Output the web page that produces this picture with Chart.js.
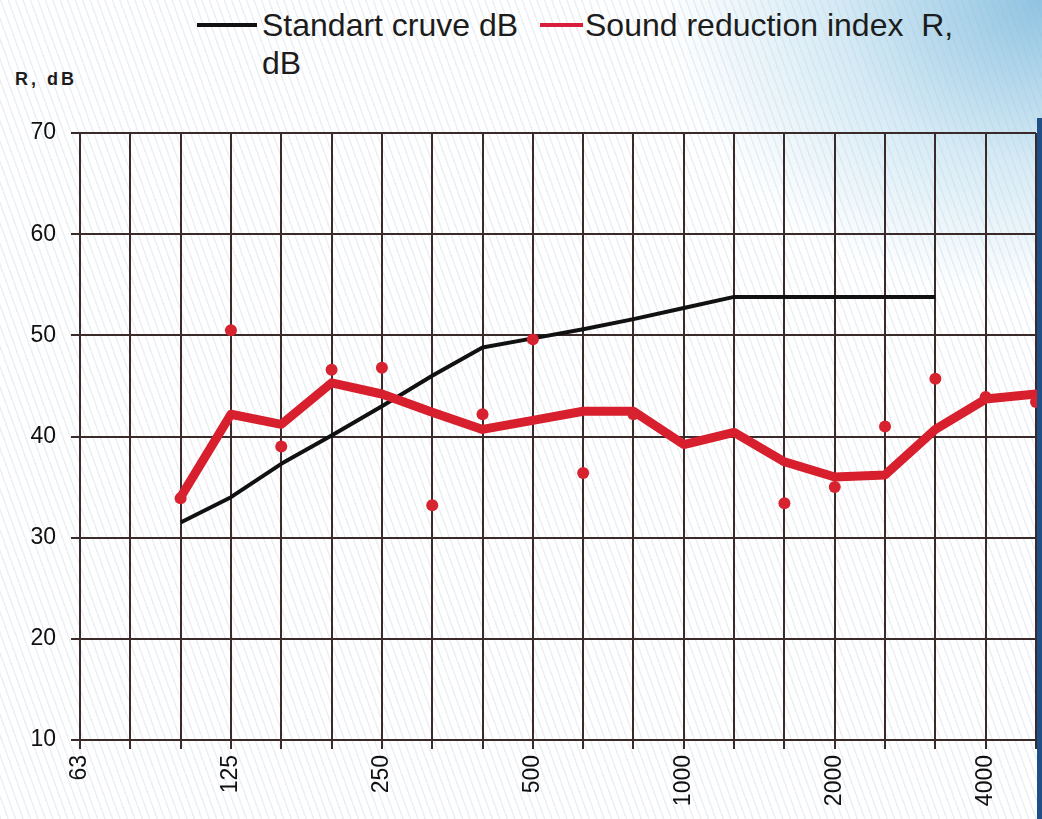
<!DOCTYPE html>
<html>
<head>
<meta charset="utf-8">
<script src="https://cdn.jsdelivr.net/npm/chart.js@4"></script>
<style>
  html, body { margin: 0; padding: 0; }
  body {
    width: 1042px; height: 819px; overflow: hidden; position: relative;
    font-family: "Liberation Sans", Arial, sans-serif; color: #1c1c1c;
    background:
      radial-gradient(ellipse 380px 300px at 1042px 0px, rgba(125,185,220,0.85), rgba(175,215,235,0.5) 55%, rgba(255,255,255,0) 100%),
      repeating-linear-gradient(70deg, rgba(200,212,224,0.35) 0px, rgba(200,212,224,0.35) 1px, rgba(255,255,255,0) 2px, rgba(255,255,255,0) 7px),
      #ffffff;
  }
  #wrap { position: absolute; left: 0; top: 0; width: 1042px; height: 819px; }
  .leg { position: absolute; font-size: 32px; white-space: nowrap; line-height: 36px; }
  .sw { position: absolute; height: 4px; }
  #ylab { position: absolute; left: 15px; top: 69px; font-size: 18px; font-weight: bold; letter-spacing: 3px; }
  #edge { position: absolute; left: 1037px; top: 118px; width: 5px; height: 701px; background: #1f4f86; }
</style>
</head>
<body>
<div class="sw" style="left:197px; top:23px; width:60px; background:#111;"></div>
<div class="leg" style="left:262px; top:7px;">Standart cruve dB</div>
<div class="sw" style="left:540px; top:23px; width:43px; background:#d81e3c;"></div>
<div class="leg" style="left:585px; top:7px;">Sound reduction index &nbsp;R,</div>
<div class="leg" style="left:262px; top:45px;">dB</div>
<div id="ylab">R, dB</div>
<div id="wrap"><canvas id="chart" width="1042" height="819"></canvas></div>
<div id="edge"></div>
<script>
const frequencies = ['63', '80', '100', '125', '160', '200', '250', '315', '400', '500',
  '630', '800', '1000', '1250', '1600', '2000', '2500', '3150', '4000', '5000'];
const tickLabels = ['63', '125', '250', '500', '1000', '2000', '4000'];
const standardCurve = [null, null, 31.5, 34.0, 37.3, 40.1, 43.0, 46.0, 48.8, 49.7,
  50.6, 51.6, 52.7, 53.8, 53.8, 53.8, 53.8, 53.8, null, null];
const reductionIndex = [null, null, 34.0, 42.2, 41.2, 45.3, 44.2, 42.4, 40.7, 41.6,
  42.5, 42.5, 39.2, 40.4, 37.5, 36.0, 36.2, 40.7, 43.7, 44.2];
const measuredPoints = [null, null, 33.9, 50.5, 39.0, 46.6, 46.8, 33.2, 42.2, 49.6,
  36.4, 42.2, null, null, 33.4, 35.0, 41.0, 45.7, 43.9, 43.4];
const yTicks = [10, 20, 30, 40, 50, 60, 70];

const gridColor = '#3a2a2a';
const ctx = document.getElementById('chart').getContext('2d');
new Chart(ctx, {
  type: 'line',
  data: {
    labels: frequencies,
    datasets: [
      {
        label: 'Sound reduction index R, dB (points)',
        data: measuredPoints,
        showLine: false,
        pointRadius: 6,
        pointBackgroundColor: '#d6232f',
        pointBorderWidth: 0
      },
      {
        label: 'Sound reduction index R, dB',
        data: reductionIndex,
        borderColor: '#d81f2e',
        borderWidth: 9,
        pointRadius: 0,
        borderJoinStyle: 'round',
        borderCapStyle: 'round'
      },
      {
        label: 'Standart cruve dB',
        data: standardCurve,
        borderColor: '#111111',
        borderWidth: 4,
        pointRadius: 0,
        borderJoinStyle: 'round'
      }
    ]
  },
  options: {
    responsive: false,
    animation: false,
    layout: { padding: { top: 133, right: 0, left: 0, bottom: 0 } },
    plugins: {
      legend: { display: false },
      tooltip: { enabled: false }
    },
    scales: {
      x: {
        offset: false,
        grid: { color: gridColor, lineWidth: 2, tickLength: 9, tickColor: gridColor },
        border: { color: gridColor, width: 2 },
        ticks: {
          autoSkip: false,
          maxRotation: 90,
          minRotation: 90,
          padding: 6,
          color: '#111111',
          font: { family: '"Liberation Sans", Arial, sans-serif', size: 23 },
          callback: function (value) {
            const lbl = this.getLabelForValue(value);
            return tickLabels.includes(lbl) ? lbl : '';
          }
        },
        afterFit: function (scale) {
          scale.height = 79;
          scale.paddingLeft = 0;
          scale.paddingRight = 0;
        }
      },
      y: {
        min: 10,
        max: 70,
        afterBuildTicks: function (scale) { scale.ticks = yTicks.map(v => ({ value: v })); },
        grid: { color: gridColor, lineWidth: 2, tickLength: 9, tickColor: gridColor },
        border: { color: gridColor, width: 2 },
        ticks: {
          padding: 15,
          color: '#111111',
          font: { family: '"Liberation Sans", Arial, sans-serif', size: 23 }
        },
        afterFit: function (scale) {
          scale.width = 80;
          scale.paddingTop = 0;
          scale.paddingBottom = 0;
        }
      }
    }
  }
});
</script>
</body>
</html>
